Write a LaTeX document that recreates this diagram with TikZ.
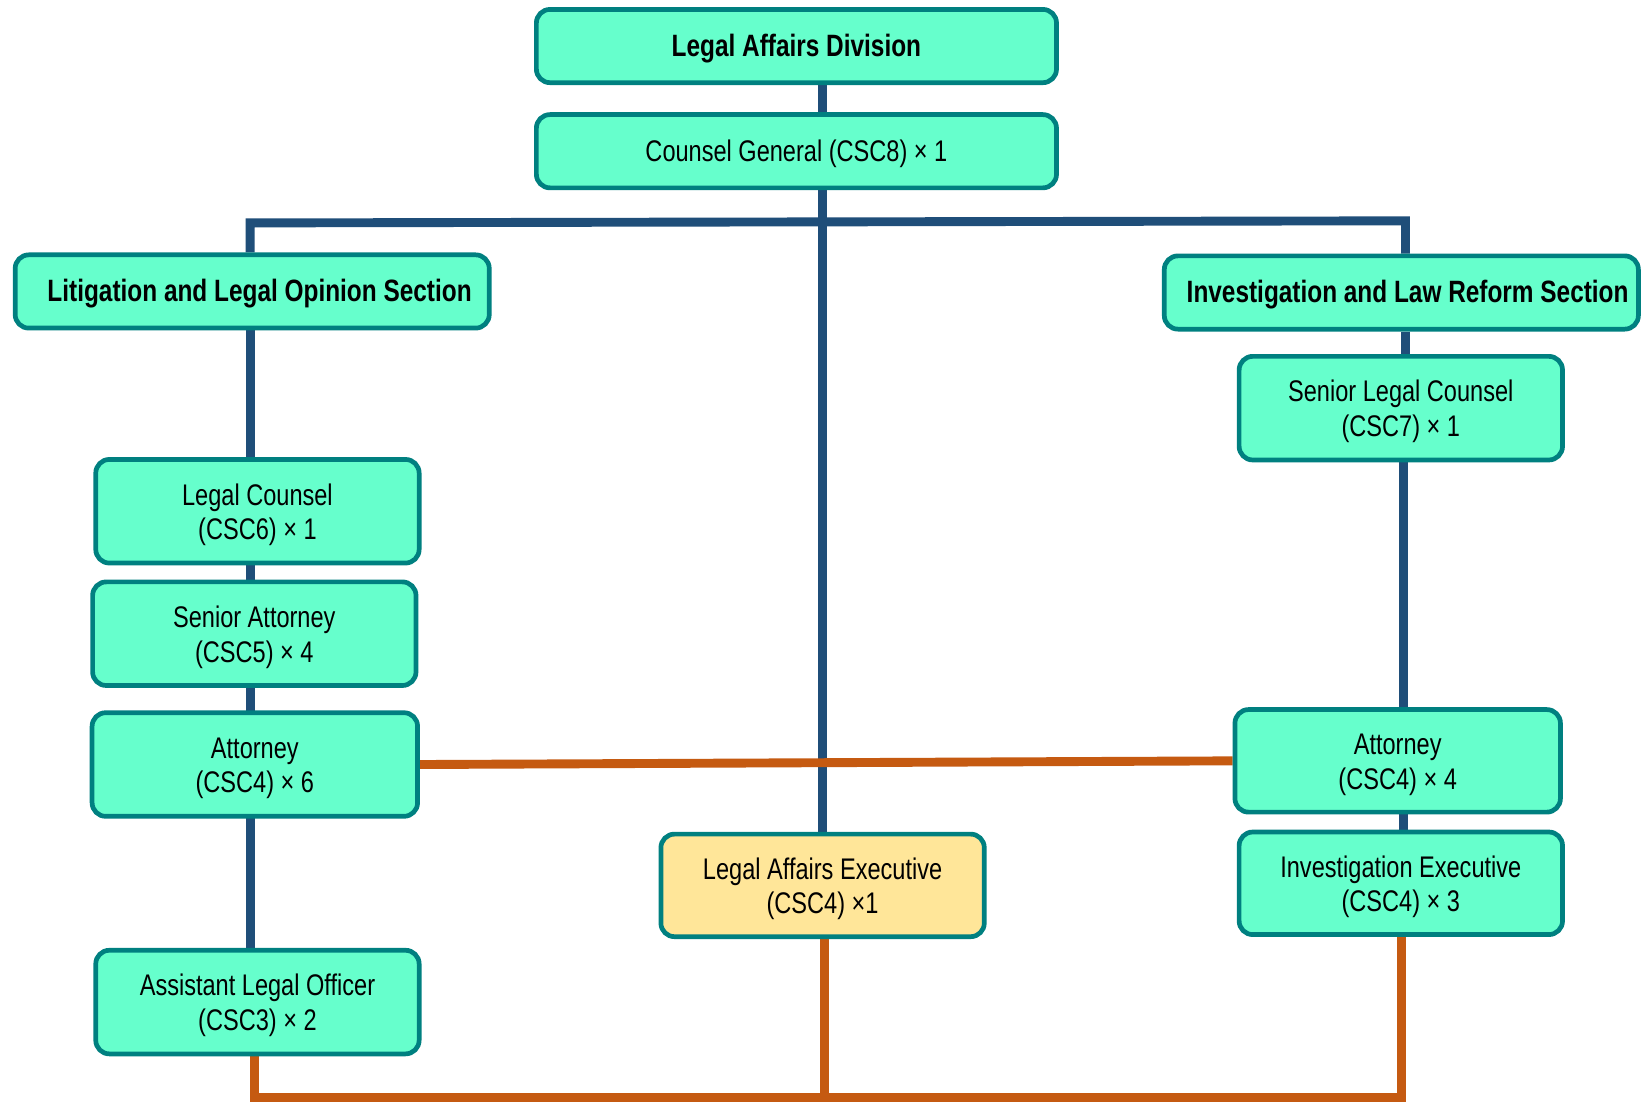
\documentclass[tikz,border=0pt]{standalone}
\usepackage{fontspec}
\setmainfont{Liberation Sans}[FakeStretch=0.79]
\usetikzlibrary{backgrounds}
\definecolor{boxfill}{HTML}{66FFCC}
\definecolor{boxedge}{HTML}{008080}
\definecolor{yelfill}{HTML}{FFE699}
\definecolor{navy}{HTML}{1F4E79}
\definecolor{rust}{HTML}{C55A11}
\newcommand\tstrut{\rule{0pt}{26pt}}
\newcommand\pstrut{\rule{0pt}{27pt}}
\begin{document}
\begin{tikzpicture}[x=1pt,y=-1pt,
  box/.style={draw=boxedge, line width=4.5pt, fill=boxfill, rounded corners=13pt,
    align=center, inner sep=0pt, font=\fontsize{28.5}{33}\selectfont},
  head/.style={box, font=\fontsize{29.5}{33}\selectfont\bfseries},
  wide/.style={minimum width=497pt, minimum height=70pt},
  sect/.style={minimum width=453pt, minimum height=70pt},
  post/.style={minimum width=309pt, minimum height=99pt},
  blueline/.style={draw=navy, line width=8.5pt, line join=miter},
  orangeline/.style={draw=rust, line width=8.5pt, line join=miter}]
\useasboundingbox (0,0) rectangle (1568,1055);

% nodes
\node[head, wide] (lad) at (761,44) {\tstrut Legal Affairs Division};
\node[box, wide] (cg) at (761,144.5) {\tstrut Counsel General (CSC8) × 1};
\node[head, sect] (lit) at (241,278.5) {\tstrut\hspace*{14pt}Litigation and Legal Opinion Section};
\node[head, sect] (inv) at (1339,279.5) {\tstrut\hspace*{12pt}Investigation and Law Reform Section};
\node[box, post] (lc) at (246,488.5) {\pstrut Legal Counsel\\(CSC6) × 1};
\node[box, post] (sa) at (243,605.5) {\pstrut Senior Attorney\\(CSC5) × 4};
\node[box, post, minimum width=311pt] (att1) at (243.5,730.5) {\pstrut Attorney\\(CSC4) × 6};
\node[box, post] (alo) at (246,957.5) {\pstrut Assistant Legal Officer\\(CSC3) × 2};
\node[box, post] (slc) at (1338.5,390) {\pstrut Senior Legal Counsel\\(CSC7) × 1};
\node[box, post, minimum width=311pt, minimum height=98pt] (att2) at (1335.5,727) {\pstrut Attorney\\(CSC4) × 4};
\node[box, post, minimum height=98pt] (ie) at (1338.5,844) {\pstrut Investigation Executive\\(CSC4) × 3};
\node[box, post, minimum height=98pt, fill=yelfill] (lae) at (786,846) {\pstrut Legal Affairs Executive\\(CSC4) ×1};

% helper coordinates
\coordinate (cx) at (786,0);
\coordinate (busL) at (239,213);
\coordinate (busR) at (1343,211);
\coordinate (lx) at (239,0);
\coordinate (rx) at (1341,0);
\coordinate (botL) at (243,1049);
\coordinate (botR) at (1339,1049);
\coordinate (ox) at (788,0);

\begin{scope}[on background layer]
  \fill[white] (0,0) rectangle (1568,1055);
  % blue hierarchy
  \draw[blueline] (lad.south -| cx) -- (cg.north -| cx);
  \draw[blueline] (cg.south -| cx) -- (lae.north -| cx);
  \draw[blueline] (lit.north -| busL) -- (busL) -- (busR) -- (inv.north -| busR);
  \draw[blueline] (lit.south -| lx) -- (alo.north -| lx);
  \draw[blueline] (inv.south -| busR) -- (slc.north -| busR);
  \draw[blueline] (slc.south -| rx) -- (ie.north -| rx);
  % orange links
  \draw[orangeline] (att1.east) -- (att2.west);
  \draw[orangeline] (alo.south -| botL) -- (botL) -- (botR) -- (ie.south -| botR);
  \draw[orangeline] (lae.south -| ox) -- (botL -| ox);
\end{scope}
\end{tikzpicture}
\end{document}
